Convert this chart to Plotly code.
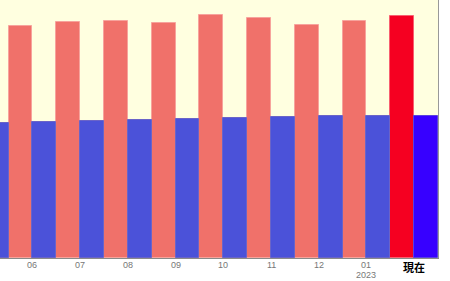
import plotly.graph_objects as go

months = ["05", "06", "07", "08", "09", "10", "11", "12", "01", "現在"]
year_label = "2023"
red_vals = [230, 232, 236, 237.3, 234.7, 243, 240.3, 233, 237.3, 242.3]
blue_vals = [134.7, 135.7, 136.7, 138, 139, 139.7, 140.7, 141.7, 141.7, 141.7]

xs = list(range(len(months)))

red_colors = ["#f0716a"] * (len(months) - 1) + ["#f50021"]
blue_colors = ["#4b52d9"] * (len(months) - 1) + ["#3700ff"]
red_line = ["#f7a39c"] * (len(months) - 1) + ["#f86070"]
blue_line = ["#6a64c8"] * (len(months) - 1) + ["#5a40e0"]

fig = go.Figure()
fig.add_trace(go.Bar(x=xs, y=red_vals, marker=dict(color=red_colors, line=dict(color=red_line, width=1))))
fig.add_trace(go.Bar(x=xs, y=blue_vals, marker=dict(color=blue_colors, line=dict(color=blue_line, width=1))))

annotations = []
for i, m in enumerate(months):
    if i == 0:
        continue  # outside visible range
    last = i == len(months) - 1
    annotations.append(dict(
        x=i, xref="x", y=0, yref="paper", yanchor="top", showarrow=False,
        text=("<b>" + m + "</b>") if last else m,
        font=dict(size=11 if last else 9, color="#000000" if last else "#777777",
                  family="Noto Sans CJK JP" if last else "Liberation Sans, Arial"),
        yshift=1 if last else 0,
    ))
annotations.append(dict(
    x=8, xref="x", y=0, yref="paper", yanchor="top", showarrow=False,
    text=year_label, font=dict(size=9, color="#777777", family="Liberation Sans, Arial"),
    yshift=-10,
))

fig.update_layout(
    width=450, height=281,
    margin=dict(l=0, r=12, t=0, b=23, autoexpand=False),
    barmode="group", bargap=0, bargroupgap=0,
    showlegend=False,
    plot_bgcolor="#ffffe0", paper_bgcolor="#ffffff",
    font=dict(family="Liberation Sans, Arial, Noto Sans CJK JP", size=9, color="#777777"),
    annotations=annotations,
)
fig.update_xaxes(
    range=[0.32, 9.5], tickmode="array", tickvals=xs, showticklabels=False,
    showgrid=False, zeroline=False, showline=True, linecolor="#8a8a8a", linewidth=1,
    ticks="", automargin=False,
)
fig.update_yaxes(
    range=[0, 258], showgrid=False, zeroline=False, showticklabels=False,
    showline=True, side="right", linecolor="#999999", linewidth=1, automargin=False,
)
fig.write_html("out.html")
